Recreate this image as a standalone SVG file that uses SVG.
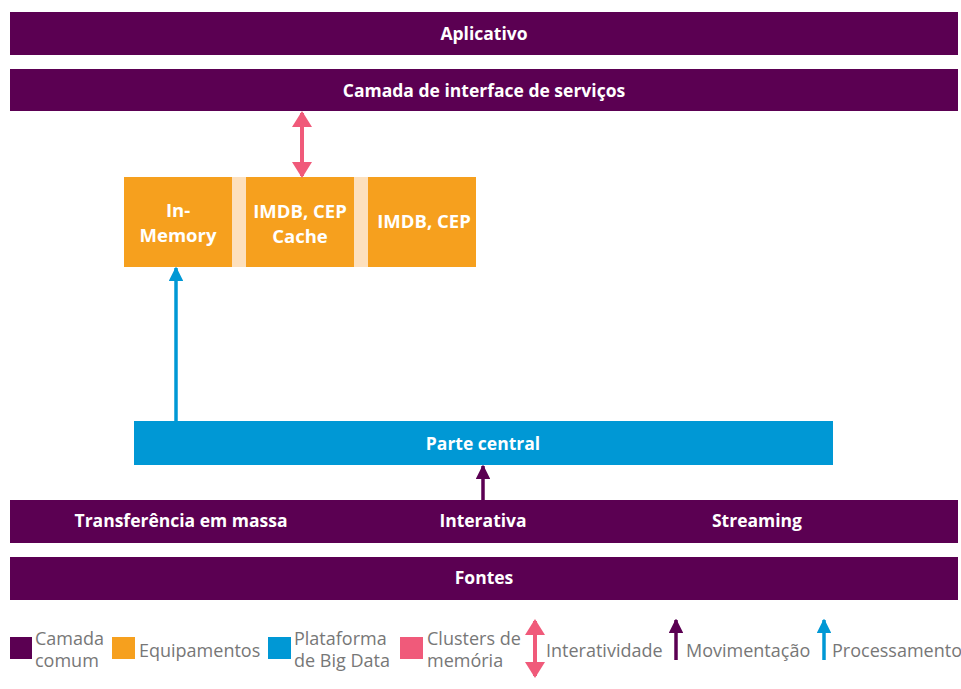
<svg xmlns="http://www.w3.org/2000/svg" width="961" height="689" viewBox="0 0 961 689">
<style>
.p{fill:#5b0052}.o{fill:#f6a01e}.b{fill:#0098d5}.k{fill:#f05a7a}.g{fill:#fde0bd}
.t{font-family:"Open Sans","Liberation Sans",sans-serif;font-weight:bold;font-size:17.5px;fill:#fff;text-anchor:middle}
.t.m{font-size:18.5px}
.l{font-family:"Open Sans","Liberation Sans",sans-serif;font-size:18px;fill:#777}
</style>
<defs>
<marker id="ak" viewBox="0 0 8 10" refX="7" refY="5" markerWidth="4" markerHeight="5" orient="auto-start-reverse" markerUnits="strokeWidth"><path d="M0,0L8,5L0,10z" fill="#f05a7a"/></marker>
<marker id="ab" viewBox="0 0 10 10" refX="9" refY="5" markerWidth="4.2" markerHeight="4.2" orient="auto" markerUnits="strokeWidth"><path d="M0,0L10,5L0,10z" fill="#0098d5"/></marker>
<marker id="ap" viewBox="0 0 10 10" refX="9" refY="5" markerWidth="4.2" markerHeight="4.2" orient="auto" markerUnits="strokeWidth"><path d="M0,0L10,5L0,10z" fill="#5b0052"/></marker>
</defs>
<g id="aplicativo"><rect class="p" x="10" y="12" width="948" height="43"/><text class="t" x="484" y="40">Aplicativo</text></g>
<g id="camada"><rect class="p" x="10" y="69" width="948" height="42"/><text class="t" x="484" y="97">Camada de interface de serviços</text></g>
<g id="memoria">
<rect class="g" x="232" y="177" width="14" height="90"/><rect class="g" x="354" y="177" width="14" height="90"/>
<g id="inmemory"><rect class="o" x="124" y="177" width="108" height="90"/><text class="t m" x="178" y="217">In-</text><text class="t m" x="178" y="242">Memory</text></g>
<g id="cache"><rect class="o" x="246" y="177" width="108" height="90"/><text class="t m" x="300" y="218">IMDB, CEP</text><text class="t m" x="300" y="243">Cache</text></g>
<g id="imdb"><rect class="o" x="368" y="177" width="108" height="90"/><text class="t m" x="424" y="228">IMDB, CEP</text></g>
</g>
<g id="central"><rect class="b" x="134" y="421" width="699" height="44"/><text class="t" x="483" y="450">Parte central</text></g>
<g id="transfer"><rect class="p" x="10" y="500" width="948" height="43"/>
<text class="t" x="181" y="527">Transferência em massa</text><text class="t" x="483" y="527">Interativa</text><text class="t" x="757" y="527">Streaming</text></g>
<g id="fontes"><rect class="p" x="10" y="557" width="948" height="43"/><text class="t" x="484" y="584">Fontes</text></g>
<g id="connectors">
<line x1="302" y1="113" x2="302" y2="176" stroke="#f05a7a" stroke-width="4" marker-start="url(#ak)" marker-end="url(#ak)"/>
<line x1="176" y1="421" x2="176" y2="268" stroke="#0098d5" stroke-width="3.5" marker-end="url(#ab)"/>
<line x1="483" y1="500" x2="483" y2="466" stroke="#5b0052" stroke-width="3.5" marker-end="url(#ap)"/>
</g>
<g id="legend">
<rect class="p" x="10" y="637" width="22" height="22"/><text class="l" x="35" y="645">Camada</text><text class="l" x="35" y="667">comum</text>
<rect class="o" x="112" y="637" width="23" height="22"/><text class="l" x="139" y="657">Equipamentos</text>
<rect class="b" x="268" y="637" width="23" height="22"/><text class="l" x="294" y="645">Plataforma</text><text class="l" x="294" y="667">de Big Data</text>
<rect class="k" x="400" y="637" width="23" height="22"/><text class="l" x="427" y="645">Clusters de</text><text class="l" x="427" y="667">memória</text>
<line x1="535" y1="621" x2="535" y2="676" stroke="#f05a7a" stroke-width="4" marker-start="url(#ak)" marker-end="url(#ak)"/>
<text class="l" x="546" y="657">Interatividade</text>
<line x1="676" y1="660" x2="676" y2="620" stroke="#5b0052" stroke-width="3.5" marker-end="url(#ap)"/>
<text class="l" x="686" y="657">Movimentação</text>
<line x1="824" y1="660" x2="824" y2="620" stroke="#0098d5" stroke-width="3.5" marker-end="url(#ab)"/>
<text class="l" x="832" y="657">Processamento</text>
</g>
</svg>
